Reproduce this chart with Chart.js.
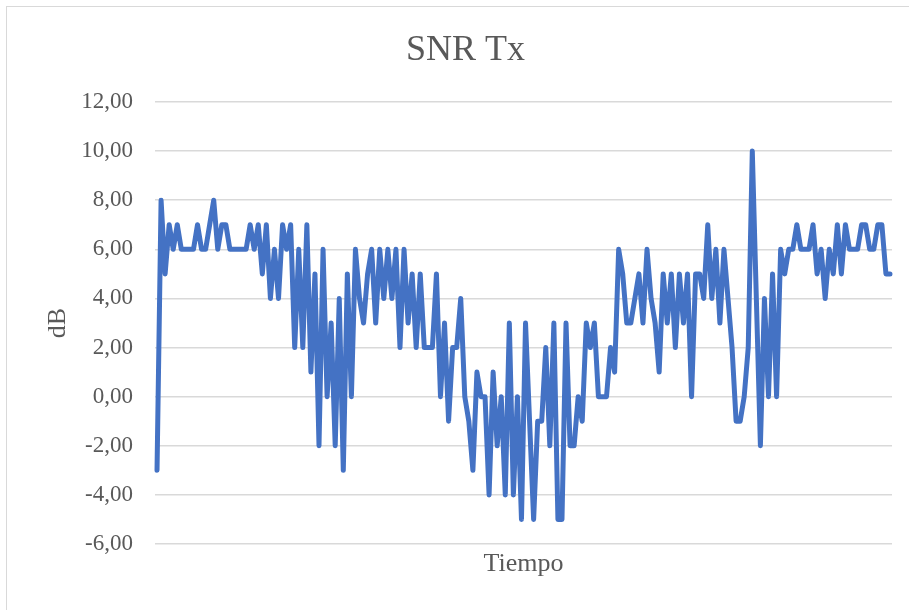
<!DOCTYPE html>
<html>
<head>
<meta charset="utf-8">
<script src="https://cdn.jsdelivr.net/npm/chart.js@4"></script>
<style>
  html, body { margin: 0; padding: 0; background: #ffffff; overflow: hidden; }
  #frame { position: absolute; left: 6px; top: 6px; width: 1000px; height: 1000px; border: 1.5px solid #d9d9d9; }
  #snr_chart { position: absolute; left: 0; top: 0; }
</style>
</head>
<body>
<div id="frame"></div>
<canvas id="snr_chart" width="909" height="610"></canvas>
<script>
//----------------------------------------
//--- Data
//----------------------------------------

var snr_tx = [
    -3, 8, 5, 7, 6, 7, 6, 6, 6, 6,
    7, 6, 6, 7, 8, 6, 7, 7, 6, 6,
    6, 6, 6, 7, 6, 7, 5, 7, 4, 6,
    4, 7, 6, 7, 2, 6, 2, 7, 1, 5,
    -2, 6, 0, 3, -2, 4, -3, 5, 0, 6,
    4, 3, 5, 6, 3, 6, 4, 6, 4, 6,
    2, 6, 3, 5, 2, 5, 2, 2, 2, 5,
    0, 3, -1, 2, 2, 4, 0, -1, -3, 1,
    0, 0, -4, 1, -2, 0, -4, 3, -4, 0,
    -5, 3, -1, -5, -1, -1, 2, -2, 3, -5,
    -5, 3, -2, -2, 0, -1, 3, 2, 3, 0,
    0, 0, 2, 1, 6, 5, 3, 3, 4, 5,
    3, 6, 4, 3, 1, 5, 3, 5, 2, 5,
    3, 5, 0, 5, 5, 4, 7, 4, 6, 3,
    6, 4, 2, -1, -1, 0, 2, 10, 4, -2,
    4, 0, 5, 0, 6, 5, 6, 6, 7, 6,
    6, 6, 7, 5, 6, 4, 6, 5, 7, 5,
    7, 6, 6, 6, 7, 7, 6, 6, 7, 7,
    5, 5];

// one sample per time step
var tiempo = snr_tx.map(function (v, i) { return i + 1; });

var y_ticks = [-6, -4, -2, 0, 2, 4, 6, 8, 10, 12];

//----------------------------------------
//--- Line chart
//----------------------------------------

var text_color = '#595959';
var serif = "'Liberation Serif', 'Times New Roman', serif";

var snr_chart = new Chart(document.getElementById('snr_chart').getContext('2d'), {
    type: 'line',
    data: {
        labels: tiempo,
        datasets: [{
            label: 'SNR Tx', data: snr_tx,
            borderColor: '#4472c4', backgroundColor: '#4472c4',
            borderWidth: 5, pointRadius: 0, tension: 0,
            borderJoinStyle: 'round', borderCapStyle: 'round'
        }]
    },
    options: {
        responsive: false, animation: false,
        layout: {padding: {left: 39, right: 17, top: 0, bottom: 0}},
        plugins: {
            title: {
                display: true, text: 'SNR Tx', color: text_color,
                font: {family: serif, size: 36, weight: 'normal', lineHeight: 1.2},
                padding: {top: 29, bottom: 29.8}
            },
            legend: {display: false},
            tooltip: {enabled: false}
        },
        scales: {
            x: {
                offset: true,
                grid: {display: false}, border: {display: false},
                ticks: {display: false},
                title: {
                    display: true, text: 'Tiempo', color: text_color,
                    font: {family: serif, size: 26, lineHeight: 1.2},
                    padding: {top: 0, bottom: 30.4}
                },
                afterFit: function (scale) { scale.height = 66; }
            },
            y: {
                min: y_ticks[0], max: y_ticks[y_ticks.length - 1],
                afterBuildTicks: function (scale) {
                    scale.ticks = y_ticks.map(function (v) { return {value: v}; });
                },
                grid: {color: '#d9d9d9', lineWidth: 1.5, drawTicks: false},
                border: {display: false},
                ticks: {
                    color: text_color, padding: 22,
                    font: {family: serif, size: 23},
                    callback: function (v) { return v.toFixed(2).replace('.', ','); }
                },
                title: {
                    display: true, text: 'dB', color: text_color,
                    font: {family: serif, size: 26, lineHeight: 1.2},
                    padding: {top: 3.4, bottom: 0}
                },
                afterFit: function (scale) { scale.width = 116; }
            }
        }
    }
});
</script>
</body>
</html>
